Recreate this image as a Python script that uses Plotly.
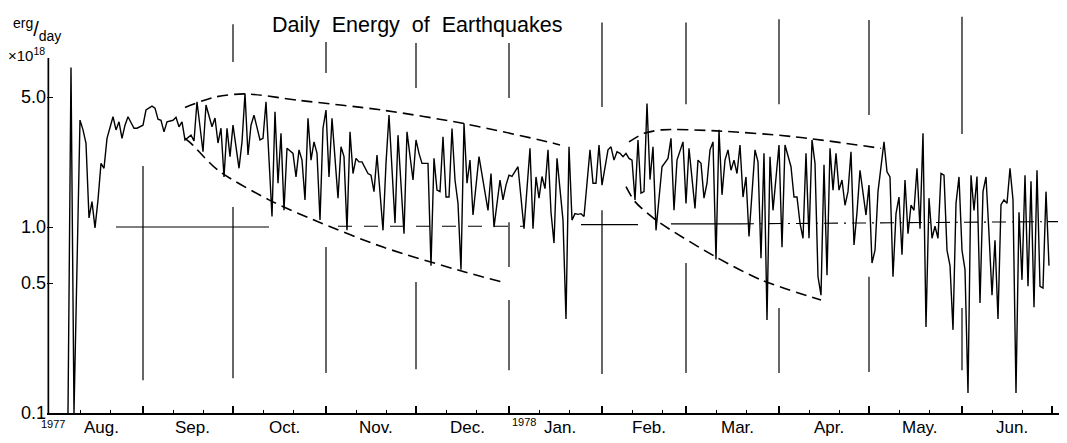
import pandas as pd
import plotly.graph_objects as go

START = "1977-08-01"

# day offset from 1 Aug 1977 and daily energy (x10^18 erg/day)
days = [6, 7, 8, 10, 11, 12, 13, 14, 15, 16, 17, 18, 19, 21, 22, 23, 24, 25, 26, 28, 29, 31, 32, 34, 35, 36, 37, 38, 39, 41, 42, 43, 44, 45, 47, 48, 49, 51, 52, 54,
        55, 56, 57, 58, 59, 60, 61, 63, 64, 65, 66, 67, 68, 70, 71, 72, 74, 75, 76, 77, 78, 79, 81, 82, 83, 84, 85, 86, 87, 88, 89, 90, 91, 92, 93, 94, 96, 97, 98, 99,
        100, 101, 102, 103, 104, 106, 107, 108, 109, 111, 112, 113, 115, 116, 118, 119, 121, 122, 123, 124, 126, 127, 128, 129, 130, 131, 132, 133, 134, 135, 136, 137, 138, 139, 140, 141, 143, 145, 146, 147,
        148, 150, 151, 152, 153, 154, 156, 158, 160, 161, 162, 163, 164, 165, 166, 167, 168, 169, 171, 172, 173, 174, 175, 176, 177, 178, 180, 181, 182, 183, 184, 186, 187, 188,
        189, 190, 191, 192, 193, 194, 195, 196, 197, 198, 199, 200, 201, 202, 203, 204, 206, 207, 208, 209, 211, 212, 213, 215, 216, 217, 218, 219, 220, 221, 222, 223, 224, 225, 226, 227,
        228, 229, 230, 231, 232, 233, 235, 236, 237, 238, 239, 240, 241, 243, 244, 245, 247, 248, 249, 250, 251, 252, 253, 254, 255, 256, 257, 258, 259, 260, 261, 262, 263, 264, 265, 266,
        267, 268, 269, 270, 272, 273, 274, 275, 276, 278, 279, 280, 281, 282, 283, 284, 285, 286, 287, 288, 289, 290, 291, 292, 293, 294, 295, 296, 297, 298, 299, 300, 301, 302, 303, 304,
        305, 306, 307, 308, 309, 310, 311, 312, 313, 314, 315, 316, 317, 318, 319, 320, 321, 322, 323, 324, 325, 326, 327, 328, 329, 330, 331, 332, 333]
energy = [0.1, 7.2, 0.1, 3.76, 3.33, 2.82, 1.12, 1.37, 0.99, 1.4, 2.2, 2.07, 3.0, 3.92, 3.33, 3.68, 3.0, 3.53, 3.92, 3.4, 3.4, 3.53, 4.26, 4.47, 4.36, 3.8, 3.75, 3.25, 3.68, 3.75, 3.89, 3.46, 3.68, 2.94, 3.12, 2.9, 4.72, 2.54, 4.53, 3.46,
          3.86, 2.83, 3.4, 1.86, 3.4, 2.39, 3.53, 2.07, 2.87, 5.23, 2.44, 3.53, 4.0, 2.94, 3.0, 4.72, 1.14, 4.17, 1.72, 3.19, 1.23, 2.65, 2.49, 1.86, 2.6, 2.29, 1.4, 3.84, 2.29, 2.87, 2.49, 1.09, 3.4, 4.26, 1.86, 3.84, 1.43, 2.7, 2.39, 0.96,
          3.25, 1.94, 2.34, 2.24, 2.24, 1.94, 1.9, 1.55, 2.44, 0.96, 2.2, 4.0, 1.05, 3.12, 0.92, 3.25, 1.79, 2.94, 2.49, 2.2, 2.2, 0.62, 2.34, 1.58, 1.55, 3.06, 1.45, 1.45, 3.39, 1.79, 1.34, 0.59, 3.61, 1.72, 2.29, 1.16, 2.39, 1.58, 1.23, 1.94,
          1.0, 1.79, 1.4, 1.68, 1.9, 1.87, 2.11, 0.98, 2.65, 0.98, 1.86, 1.43, 1.87, 1.61, 2.6, 1.2, 0.82, 2.34, 1.09, 0.32, 2.7, 1.09, 1.18, 1.17, 1.18, 1.14, 2.6, 1.72, 1.72, 2.76, 1.68, 2.6, 2.7, 2.29,
          2.54, 2.49, 2.39, 2.49, 2.34, 2.29, 1.4, 2.94, 1.52, 1.55, 4.62, 1.8, 2.7, 0.96, 1.4, 2.11, 2.34, 3.0, 1.23, 2.29, 2.87, 1.34, 2.65, 1.26, 2.29, 2.2, 1.43, 1.72, 2.6, 2.87, 0.67, 3.33, 1.49, 2.29, 2.6, 2.02,
          2.29, 1.94, 2.76, 1.45, 1.86, 0.89, 2.6, 2.24, 0.68, 2.49, 0.316, 2.39, 1.23, 2.76, 0.78, 2.76, 2.11, 1.45, 1.45, 1.05, 0.87, 2.49, 0.87, 2.94, 2.2, 0.54, 0.43, 2.16, 0.55, 2.65, 1.58, 2.49, 1.58, 1.79, 1.31, 1.55,
          2.54, 0.8, 1.2, 2.02, 1.16, 1.68, 0.64, 0.75, 1.55, 2.87, 1.98, 1.86, 0.54, 1.18, 1.45, 0.71, 1.79, 0.92, 1.31, 1.23, 2.07, 0.98, 3.19, 0.29, 1.43, 0.87, 1.01, 0.87, 1.94, 1.9, 0.75, 0.62, 0.28, 1.34, 1.86, 0.75,
          0.59, 0.128, 1.9, 1.23, 1.87, 0.39, 1.55, 1.86, 0.92, 0.43, 0.85, 0.32, 1.32, 1.4, 1.34, 2.07, 1.4, 0.128, 1.2, 0.52, 1.9, 0.48, 1.76, 0.37, 2.02, 0.48, 0.47, 1.55, 0.62]

# dashed envelopes (day, value)
env1_upper_days = [45, 55, 65, 83, 111, 138, 166, 170]
env1_upper_vals = [4.4, 5.0, 5.2, 4.8, 4.25, 3.6, 2.87, 2.76]
env1_lower_days = [45, 47, 56, 73, 88, 111, 138, 152]
env1_lower_vals = [3.0, 2.82, 2.02, 1.4, 1.09, 0.78, 0.575, 0.50]
env2_upper_days = [193, 198, 204, 222, 248, 277]
env2_upper_vals = [2.87, 3.19, 3.33, 3.29, 3.06, 2.65]
env2_lower_days = [192, 195, 202, 222, 237, 257]
env2_lower_vals = [1.65, 1.37, 1.09, 0.69, 0.52, 0.405]

# month separator lines (Sep 1 .. Jun 1): upper and lower pieces (top, bottom values)
upper_top = [None, 12.3, 9.88, 9.76, 9.76, 12.6, 12.6, 13.1, 13.0, 13.5]
upper_bot = [None, 7.71, 6.73, 5.59, 4.94, 4.42, 4.58, 4.58, 4.0, 3.16]
lower_top = [2.13, 1.28, 0.78, 0.506, 0.405, 1.23, 0.64, 0.367, 0.54, 0.367]
lower_bot = [0.150, 0.154, 0.164, 0.172, 0.170, 0.162, 0.164, 0.164, 0.166, 0.170]
jan_mid = (1.06, 0.61)

# reference level segments: (day from, day to, level from, level to, dash)
ref_segments = [
    (22, 73, 1.0, 1.0, "solid"),
    (96, 158, 1.01, 1.01, "14px,12px"),
    (177, 196, 1.03, 1.03, "solid"),
    (207, 230, 1.04, 1.04, "solid"),
    (230, 336, 1.04, 1.07, "14px,6px,2px,6px"),
]

# arrows: (day, tip value)
arrows = [(33.7, 5.45), (188.7, 3.24)]

month_names = ["Aug.", "Sep.", "Oct.", "Nov.", "Dec.", "Jan.", "Feb.", "Mar.", "Apr.", "May.", "Jun."]
y_ticks = [0.1, 0.5, 1.0, 5.0]
y_tick_text = ["0.1", "0.5", "1.0", "5.0"]
Y_RANGE = [-1, 1.151]
X_RANGE = [-1, 339]
AXIS_SPAN = [0.1, 8.1]

t0 = pd.Timestamp(START)
ms = pd.date_range("1977-08-01", "1978-07-01", freq="MS")
ms_days = [int(d) for d in (ms - t0).days]
month_mid = [(a + b) / 2 for a, b in zip(ms_days[:-1], ms_days[1:])]
major_ticks = ms_days[1:]
minor_ticks = [d + k for d in ms_days[:-1] for k in (10, 20)]

FONT = "Liberation Sans"
fig = go.Figure()

# left vertical axis line, stopping at the top of the value scale
fig.add_trace(go.Scatter(x=[X_RANGE[0] + 0.45] * 2, y=AXIS_SPAN, mode="lines",
                         line=dict(color="black", width=1.7), hoverinfo="skip", showlegend=False))

fig.add_trace(go.Scatter(x=days, y=energy, mode="lines",
                         line=dict(color="black", width=1.4), hoverinfo="skip", showlegend=False))
for dx, vy in [(env1_upper_days, env1_upper_vals), (env1_lower_days, env1_lower_vals),
               (env2_upper_days, env2_upper_vals), (env2_lower_days, env2_lower_vals)]:
    fig.add_trace(go.Scatter(x=dx, y=vy, mode="lines",
                             line=dict(color="black", width=1.6, dash="11px,6px", shape="spline", smoothing=0.8),
                             hoverinfo="skip", showlegend=False))

shapes = []
for i, d in enumerate(major_ticks[:-1]):
    if upper_top[i] is not None:
        shapes.append(dict(type="line", xref="x", yref="y", x0=d, x1=d, y0=upper_top[i], y1=upper_bot[i],
                           line=dict(color="black", width=1.2)))
    shapes.append(dict(type="line", xref="x", yref="y", x0=d, x1=d, y0=lower_top[i], y1=lower_bot[i],
                       line=dict(color="black", width=1.2)))
jan_day = major_ticks[4]
shapes.append(dict(type="line", xref="x", yref="y", x0=jan_day, x1=jan_day, y0=jan_mid[0], y1=jan_mid[1],
                   line=dict(color="black", width=1.2)))
for a, b, ya, yb, dash in ref_segments:
    shapes.append(dict(type="line", xref="x", yref="y", x0=a, x1=b, y0=ya, y1=yb,
                       line=dict(color="black", width=1.1, dash=dash)))

annotations = []
for d, v in arrows:
    annotations.append(dict(x=d, y=v, xref="x", yref="y", text="", showarrow=True, ax=0, ay=-62,
                            arrowhead=5, arrowsize=1.6, arrowwidth=1.5, arrowcolor="black"))
for name, m in zip(month_names, month_mid):
    annotations.append(dict(x=m + 1.5, y=-0.008, xref="x", yref="paper", text=name, showarrow=False,
                            yanchor="top", font=dict(family=FONT, size=17, color="black")))
annotations.append(dict(x=ms_days[0] + 1, y=-0.008, xref="x", yref="paper", text="1977", showarrow=False,
                        yanchor="top", xanchor="center", font=dict(family=FONT, size=11, color="black")))
annotations.append(dict(x=ms_days[5] + 5, y=-0.003, xref="x", yref="paper", text="1978", showarrow=False,
                        yanchor="top", xanchor="center", font=dict(family=FONT, size=11, color="black")))
annotations.append(dict(x=0.363, y=1.005, xref="paper", yref="paper", text="Daily  Energy  of  Earthquakes",
                        showarrow=False, font=dict(family=FONT, size=21.5, color="black")))
annotations.append(dict(x=-0.01, y=1.0, xref="paper", yref="paper", xanchor="center",
                        text="<sup>erg</sup>/<sub>day</sub>", showarrow=False,
                        font=dict(family=FONT, size=20, color="black")))
annotations.append(dict(x=-0.02, y=0.925, xref="paper", yref="paper", xanchor="center",
                        text="×10<sup>18</sup>", showarrow=False,
                        font=dict(family=FONT, size=15, color="black")))

# page body has an 8px margin: shrink figure so that it fits the 1067x443 window
fig.update_layout(
    width=1059, height=435, autosize=False,
    margin=dict(l=39, r=0, t=5, b=30),
    paper_bgcolor="white", plot_bgcolor="white",
    shapes=shapes, annotations=annotations,
    xaxis=dict(range=X_RANGE, showgrid=False, zeroline=False, showline=True, linecolor="black", linewidth=1.6,
               tickvals=major_ticks, ticktext=["" for _ in major_ticks], ticks="inside", ticklen=7,
               tickwidth=1.6, tickcolor="black",
               minor=dict(tickvals=minor_ticks, ticks="inside", ticklen=3, tickwidth=1.4, tickcolor="black")),
    yaxis=dict(type="log", range=Y_RANGE, showgrid=False, zeroline=False, showline=False,
               tickvals=y_ticks, ticktext=y_tick_text, ticks="inside", ticklen=6, tickwidth=1.4,
               tickcolor="black", tickfont=dict(family=FONT, size=18, color="black")),
)

fig.write_html("out.html")
